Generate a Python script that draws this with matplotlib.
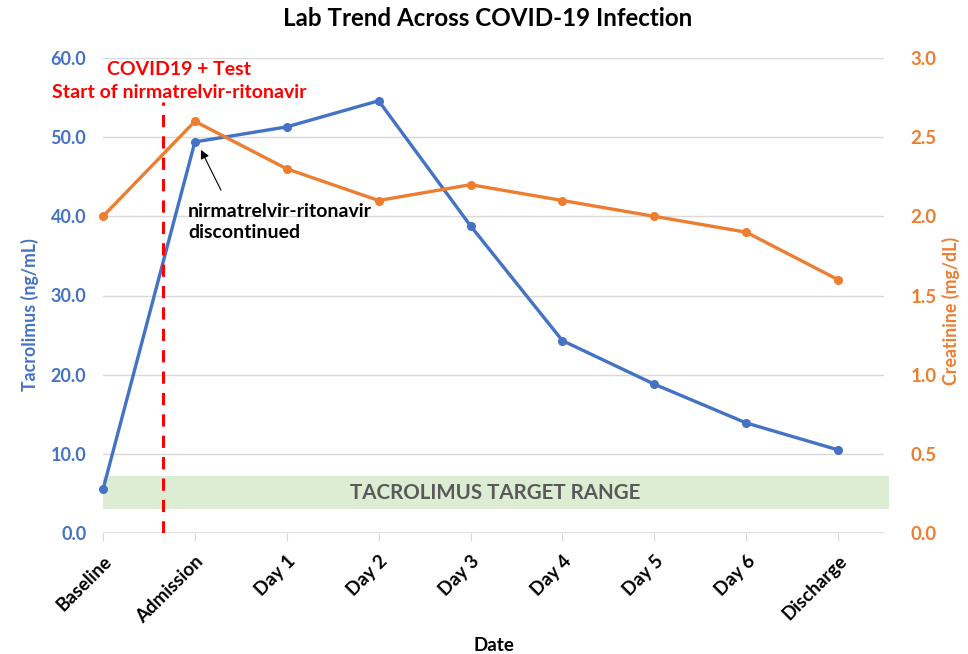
import matplotlib
matplotlib.use("Agg")
import matplotlib.pyplot as plt
from matplotlib.patches import Rectangle

plt.rcParams['font.family'] = ['Lato', 'DejaVu Sans']
plt.rcParams['font.weight'] = 'bold'

categories = ["Baseline", "Admission", "Day 1", "Day 2", "Day 3", "Day 4", "Day 5", "Day 6", "Discharge"]
tacrolimus = [5.5, 49.4, 51.3, 54.6, 38.8, 24.3, 18.8, 13.9, 10.5]
creatinine = [2.0, 2.6, 2.3, 2.1, 2.2, 2.1, 2.0, 1.9, 1.6]
target_range = (3.0, 7.2)
left_ticks = [0, 10, 20, 30, 40, 50, 60]
right_ticks = [0, 0.5, 1.0, 1.5, 2.0, 2.5, 3.0]
covid_pos = 0.65

BLUE = "#4472C4"
ORANGE = "#ED7D31"

fig = plt.figure(figsize=(9.68, 6.54), dpi=100)
ax = fig.add_axes([103/968, 1-533/654, (884-103)/968, (533-58)/654])
ax2 = ax.twinx()

x = list(range(len(categories)))

ax.set_xlim(0, len(categories) - 0.5)
ax.set_ylim(0, 60)
ax2.set_ylim(0, 3.0)

# gridlines
ax.set_yticks(left_ticks)
ax.yaxis.grid(True, color="#D9D9D9", linewidth=1)
ax.set_axisbelow(True)

# target band
ax.add_patch(Rectangle((0, target_range[0]), len(categories) - 0.45, target_range[1] - target_range[0],
                       facecolor="#DDEDD3", edgecolor="none", zorder=1, clip_on=False))
ax.text(4.27, (target_range[0] + target_range[1]) / 2, "TACROLIMUS TARGET RANGE",
        ha="center", va="center", fontsize=14.8, fontweight="bold", color="#595959", zorder=2)

ax.plot(x, tacrolimus, color=BLUE, linewidth=2.4, marker="o", markersize=5.5, zorder=3, clip_on=False)
ax2.plot(x, creatinine, color=ORANGE, linewidth=2.4, marker="o", markersize=5.5, zorder=3, clip_on=False)

# red dashed line
ax.plot([covid_pos, covid_pos], [0, 54.5], color="#FF0000", linestyle=(0, (4, 3)), linewidth=2.2, zorder=4)
ax.text(0.83, 58.6, "COVID19 + Test", color="#FF0000", fontsize=14, fontweight="bold",
        ha="center", va="center")
ax.text(0.83, 55.6, "Start of nirmatrelvir-ritonavir", color="#FF0000", fontsize=14, fontweight="bold",
        ha="center", va="center")

ax.annotate("", xy=(1.066, 48.4), xytext=(1.284, 43.3),
            arrowprops=dict(arrowstyle="-|>", color="black", lw=0.8, mutation_scale=13,
                            shrinkA=0, shrinkB=0),
            zorder=5)
ax.text(0.925, 39.3, "nirmatrelvir-ritonavir\ndiscontinued", fontsize=14, fontweight="bold",
        color="black", ha="left", va="center", linespacing=1.25, zorder=5)

# axes styling
for a in (ax, ax2):
    for s in ("top", "left", "right", "bottom"):
        a.spines[s].set_visible(False)
ax.axhline(0, color="#D9D9D9", linewidth=1.2, zorder=1)

ax.set_xticks(x)
ax.set_xticklabels(categories, rotation=45, ha="right", rotation_mode="anchor",
                   fontsize=13.5, fontweight="bold")
ax.tick_params(axis="x", length=6, color="#D9D9D9", pad=8)
ax.tick_params(axis="y", length=0, labelcolor=BLUE, labelsize=13, pad=12)
ax.set_yticklabels([f"{v:.1f}" for v in left_ticks], fontweight="bold")

ax2.set_yticks(right_ticks)
ax2.set_yticklabels([f"{v:.1f}" for v in right_ticks], fontweight="bold")
ax2.tick_params(axis="y", length=0, labelcolor=ORANGE, labelsize=13.5, pad=19)

ax.set_ylabel("Tacrolimus (ng/mL)", color=BLUE, fontsize=12.8, fontweight="bold", labelpad=12)
ax.yaxis.set_label_coords(-0.082, 0.459)
ax2.set_ylabel("Creatinine (mg/dL)", color=ORANGE, fontsize=12.8, fontweight="bold", labelpad=10)
ax2.yaxis.set_label_coords(1.074, 0.468)
ax.set_xlabel("Date", fontsize=13.5, fontweight="bold", labelpad=8)

fig.suptitle("Lab Trend Across COVID-19 Infection", fontsize=17.4, fontweight="bold", x=0.504, y=0.99)

fig.savefig("out.png", dpi=100)
